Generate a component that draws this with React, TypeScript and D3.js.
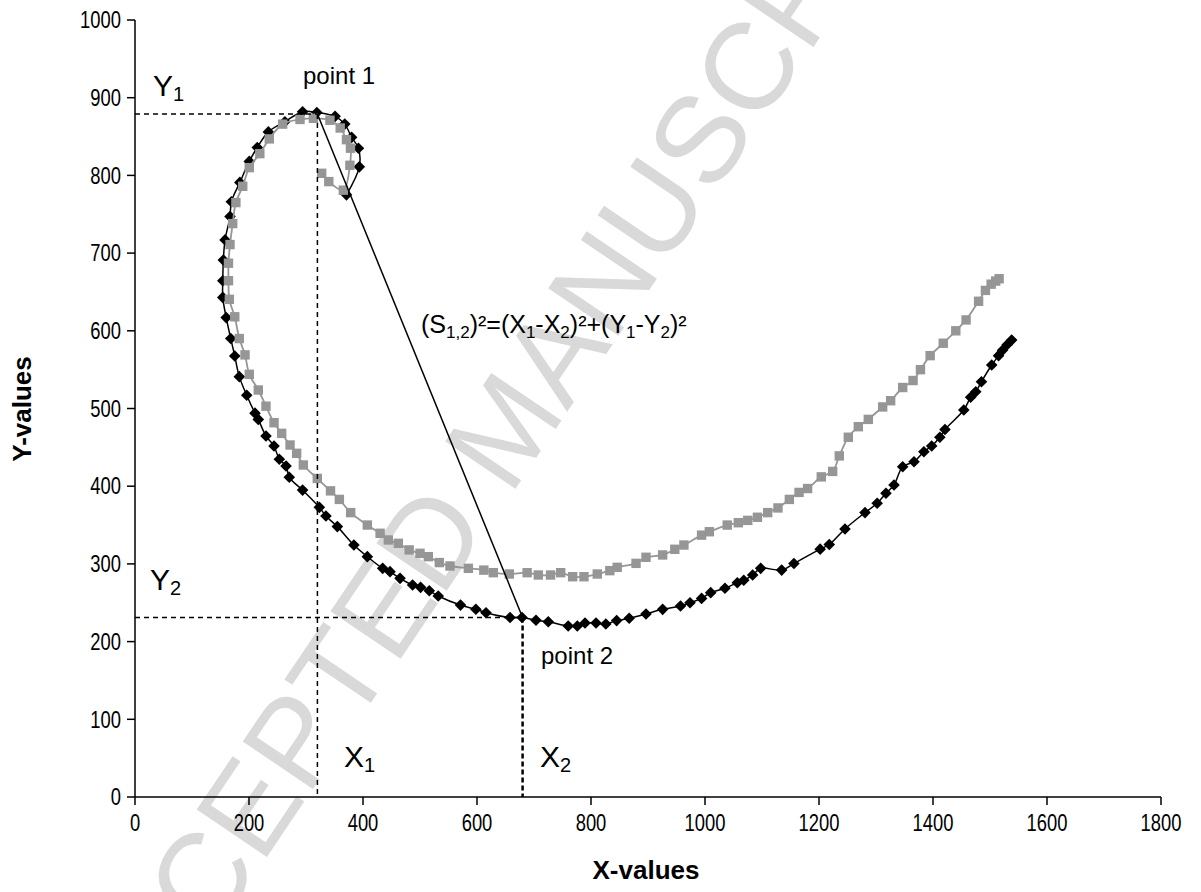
import React from 'react';
import * as d3 from 'd3';

// Series 1 (black diamonds)
const blackX = [371, 393.5, 392, 380, 368, 351, 319, 294, 263, 234, 214.6, 200.5, 184, 169, 166.7, 158, 155, 154, 154, 160, 168, 175, 183, 196, 210.5, 216.3, 229.8, 243.9, 253.2, 265, 270.7, 294, 323.4, 335, 355, 384, 407.6, 434.5, 447.4, 465, 487, 501, 516.3, 532, 571, 598, 615.8, 658, 679, 703.5, 725, 760, 776, 789.5, 808.8, 826, 845, 867, 896.5, 925.7, 957, 973.7, 994, 1010, 1035, 1056.7, 1068, 1083.6, 1097.7, 1134.5, 1156, 1202, 1218, 1245.6, 1280.7, 1302, 1317.5, 1331.6, 1346.8, 1366.7, 1384, 1397.7, 1412, 1421, 1454, 1466, 1475, 1485, 1503, 1515, 1522, 1530, 1538];
const blackY = [775, 811, 835, 849, 866, 876, 881, 882, 869, 856, 836, 818, 791, 766, 747, 717, 691, 664.5, 643, 617, 590, 567.6, 541, 517, 494, 486, 464.6, 451.7, 434.6, 426, 411.5, 395, 372.8, 361.6, 348, 324.3, 309.3, 294.3, 290, 281.4, 272.8, 269.8, 265.4, 258.7, 247, 241.6, 237.2, 231, 231, 227.5, 225.6, 220, 220, 224, 224, 222.7, 227, 230, 235.5, 241.5, 245.8, 250, 255.6, 263, 268.6, 275.8, 279, 285.7, 294.3, 292, 300.6, 319, 325, 345, 366, 378, 391, 401.5, 425, 431.5, 444.4, 451.7, 463, 473, 498, 514.4, 521.6, 534.5, 556, 568, 575, 582, 588];

// Series 2 (grey squares)
const grayX = [327.5, 340, 365.5, 377, 378, 371, 360, 342, 313, 289.5, 259, 235.6, 219, 200.5, 189, 177, 171.4, 166.7, 164, 164, 165.5, 175, 183, 193, 200.5, 216.3, 229.8, 243.9, 257.3, 272, 283.6, 295.3, 319.8, 343, 358.5, 378.4, 407.6, 430, 444.4, 462, 481, 500, 514.6, 533.9, 552.6, 584.8, 612, 628.6, 656.7, 688, 707.6, 729, 746.8, 767.8, 787.7, 811, 833, 846, 879, 896.5, 925.7, 947, 963, 994, 1007.6, 1039, 1058.5, 1075, 1092, 1110, 1128, 1148, 1165, 1180, 1204, 1224, 1235.6, 1251.4, 1269, 1286.5, 1311.7, 1325.7, 1346.8, 1365, 1378, 1395, 1418, 1440, 1458, 1480, 1492, 1502, 1510, 1516];
const grayY = [802.7, 792, 781, 813, 835, 846, 861, 871, 873.5, 872, 866, 847, 828, 810, 786, 765, 738, 711, 687, 664.5, 640.5, 618, 590, 569, 544, 523.8, 503, 481.7, 468, 453, 442.3, 427.3, 410, 394, 383, 366, 350, 339.4, 330.8, 326.5, 318, 313.6, 309.3, 301.7, 297.3, 294.3, 292, 288.7, 287, 288.7, 285.7, 285.7, 288.7, 283.5, 283.5, 287, 291.3, 295.6, 300.7, 308.5, 311.5, 318.8, 324.3, 337, 341.4, 350, 353, 356, 360, 366, 372, 383, 392, 397, 412, 419, 439, 463, 476.6, 486, 502, 510, 527, 536, 550, 568, 584, 600, 614, 638, 652, 660, 664, 667];

const xTicks = [0, 200, 400, 600, 800, 1000, 1200, 1400, 1600, 1800];
const yTicks = [0, 100, 200, 300, 400, 500, 600, 700, 800, 900, 1000];

const point1 = [320, 879];
const point2 = [680, 231];

const FONT = "'Liberation Sans', Arial, sans-serif";
const GREY = '#969696';

export default function App() {
  const W = 1201, H = 892;
  const x = d3.scaleLinear().domain([0, 1800]).range([135, 1161]);
  const y = d3.scaleLinear().domain([0, 1000]).range([797, 20]);

  const black: [number, number][] = blackX.map((v, i) => [v, blackY[i]]);
  const grey: [number, number][] = grayX.map((v, i) => [v, grayY[i]]);

  const line = d3.line<[number, number]>()
    .x(d => x(d[0]))
    .y(d => y(d[1]))
    .curve(d3.curveCatmullRom.alpha(0.5));

  const diamond = 'M0,-5.8L5.8,0L0,5.8L-5.8,0Z';

  return (
    <div style={{ position: 'absolute', left: 0, top: 0 }}>
      <svg width={W} height={H} style={{ display: 'block', background: '#fff' }} fontFamily={FONT}>
        {/* watermark */}
        <text
          x={0} y={0}
          transform="translate(505,428) rotate(-56)"
          textAnchor="middle"
          dominantBaseline="central"
          fontSize={123}
          fill="#d9d9d9"
        >ACCEPTED MANUSCRIPT</text>

        {/* series 1 */}
        <path d={line(black) || ''} fill="none" stroke="#000" strokeWidth={1.5} />
        {black.map((d, i) => (
          <path key={'b' + i} d={diamond} transform={`translate(${x(d[0])},${y(d[1])})`} fill="#000" />
        ))}

        {/* series 2 */}
        <path d={line(grey) || ''} fill="none" stroke={GREY} strokeWidth={1.8} />
        {grey.map((d, i) => (
          <rect key={'g' + i} x={x(d[0]) - 4.7} y={y(d[1]) - 4.7} width={9.4} height={9.4} fill={GREY} />
        ))}

        {/* annotation lines */}
        <line x1={x(0)} x2={x(point1[0])} y1={y(point1[1])} y2={y(point1[1])} stroke="#000" strokeWidth={1.5} strokeDasharray="5,4" />
        <line x1={x(point1[0])} x2={x(point1[0])} y1={y(point1[1])} y2={y(0)} stroke="#000" strokeWidth={1.5} strokeDasharray="5,4" />
        <line x1={x(0)} x2={x(point2[0])} y1={y(point2[1])} y2={y(point2[1])} stroke="#000" strokeWidth={1.5} strokeDasharray="5,4" />
        <line x1={x(point2[0])} x2={x(point2[0])} y1={y(point2[1])} y2={y(0)} stroke="#000" strokeWidth={2.5} strokeDasharray="5,3" />
        <line x1={x(point1[0])} y1={y(point1[1])} x2={x(point2[0])} y2={y(point2[1])} stroke="#000" strokeWidth={1.5} />

        {/* axes */}
        <line x1={x(0)} x2={x(0)} y1={y(0)} y2={y(1000)} stroke="#000" strokeWidth={1.5} />
        <line x1={x(0)} x2={x(1800)} y1={y(0)} y2={y(0)} stroke="#000" strokeWidth={1.5} />
        {yTicks.map(t => (
          <g key={'yt' + t}>
            <line x1={x(0) - 8} x2={x(0)} y1={y(t)} y2={y(t)} stroke="#000" strokeWidth={1.5} />
            <text transform={`translate(${x(0) - 14},${y(t)}) scale(0.8,1)`} dy="0.36em" textAnchor="end" fontSize={23} fill="#000">{t}</text>
          </g>
        ))}
        {xTicks.map(t => (
          <g key={'xt' + t}>
            <line x1={x(t)} x2={x(t)} y1={y(0)} y2={y(0) + 8} stroke="#000" strokeWidth={1.5} />
            <text transform={`translate(${x(t)},831) scale(0.8,1)`} textAnchor="middle" fontSize={23} fill="#000">{t}</text>
          </g>
        ))}

        {/* axis titles */}
        <text x={646} y={879} textAnchor="middle" fontSize={26} fontWeight="bold">X-values</text>
        <text transform="translate(31,409) rotate(-90)" textAnchor="middle" fontSize={26} fontWeight="bold">Y-values</text>

        {/* labels */}
        <text x={153} y={96} fontSize={30}>Y<tspan fontSize={20} dy={5}>1</tspan></text>
        <text x={150} y={590} fontSize={30}>Y<tspan fontSize={20} dy={5}>2</tspan></text>
        <text x={344} y={767} fontSize={30}>X<tspan fontSize={20} dy={5}>1</tspan></text>
        <text x={540} y={767} fontSize={30}>X<tspan fontSize={20} dy={5}>2</tspan></text>
        <text x={303} y={84} fontSize={24}>point 1</text>
        <text x={541} y={664} fontSize={24}>point 2</text>
        <text x={421} y={333} fontSize={25}>
          (S<tspan fontSize={17} dy={5}>1,2</tspan>
          <tspan dy={-5}>)²=(X</tspan>
          <tspan fontSize={17} dy={5}>1</tspan>
          <tspan dy={-5}>-X</tspan>
          <tspan fontSize={17} dy={5}>2</tspan>
          <tspan dy={-5}>)²+(Y</tspan>
          <tspan fontSize={17} dy={5}>1</tspan>
          <tspan dy={-5}>-Y</tspan>
          <tspan fontSize={17} dy={5}>2</tspan>
          <tspan dy={-5}>)²</tspan>
        </text>
      </svg>
    </div>
  );
}
